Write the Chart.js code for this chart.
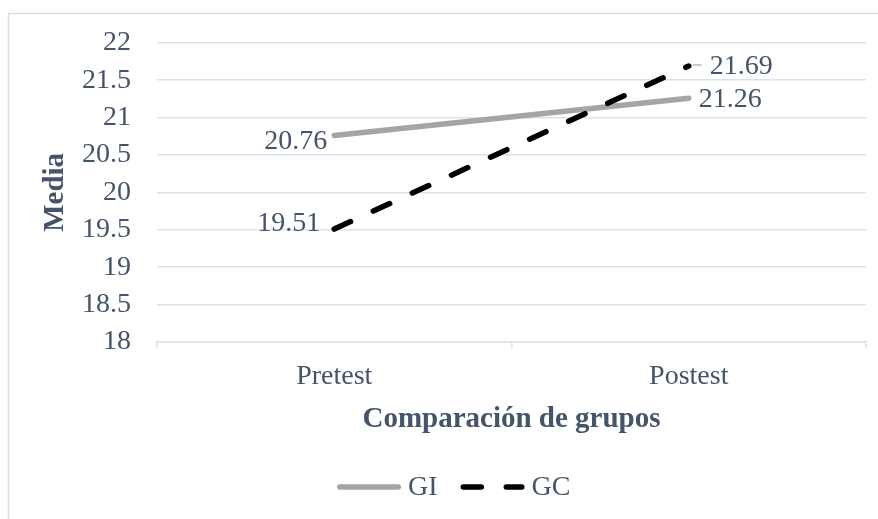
<!DOCTYPE html>
<html>
<head>
<meta charset="utf-8">
<script src="https://cdn.jsdelivr.net/npm/chart.js@4/dist/chart.umd.min.js"></script>
<style>
  html, body { margin: 0; padding: 0; background: #ffffff; }
  #wrap { position: relative; width: 878px; height: 519px; }
</style>
</head>
<body>
<div id="wrap"><canvas id="c" width="878" height="519"></canvas></div>
<script>
// Group means before and after the intervention
const categories = ['Pretest', 'Postest'];
const giValues = [20.76, 21.26];
const gcValues = [19.51, 21.69];
const yTicks = [18, 18.5, 19, 19.5, 20, 20.5, 21, 21.5, 22];

const TEXT = '#44546a';
const GRID = '#dde2ea';
const SERIF = '"Liberation Serif", "Times New Roman", serif';

// Light frame around the chart
const frame = {
  id: 'frame',
  beforeDraw(chart) {
    const ctx = chart.ctx;
    ctx.save();
    ctx.strokeStyle = '#d9dde4';
    ctx.lineWidth = 1.5;
    ctx.beginPath();
    ctx.moveTo(8.5, chart.height + 5);
    ctx.lineTo(8.5, 13.5);
    ctx.lineTo(chart.width + 5, 13.5);
    ctx.stroke();
    ctx.restore();
  }
};

// Value labels next to each point
const valueLabels = {
  id: 'valueLabels',
  afterDatasetsDraw(chart, args, opts) {
    const ctx = chart.ctx;
    ctx.save();
    ctx.font = '28px ' + SERIF;
    ctx.fillStyle = TEXT;
    ctx.textBaseline = 'middle';
    chart.data.datasets.forEach((ds, di) => {
      const meta = chart.getDatasetMeta(di);
      meta.data.forEach((pt, i) => {
        const p = opts.place[di][i];
        ctx.textAlign = p.align;
        ctx.fillText(ds.data[i].toFixed(2), pt.x + p.dx, pt.y + p.dy);
        if (p.leader) {
          ctx.strokeStyle = '#8a9ab0';
          ctx.lineWidth = 1;
          ctx.beginPath();
          ctx.moveTo(pt.x + 4, pt.y - 1);
          ctx.lineTo(pt.x + p.leader, pt.y - 1);
          ctx.stroke();
        }
      });
    });
    ctx.restore();
  }
};

// Legend row under the axis title, styled from each dataset
const lineLegend = {
  id: 'lineLegend',
  afterDraw(chart, args, opts) {
    const ctx = chart.ctx;
    ctx.save();
    ctx.font = '28px ' + SERIF;
    ctx.textBaseline = 'middle';
    ctx.textAlign = 'left';
    let x = opts.x;
    const y = opts.y;
    chart.data.datasets.forEach(ds => {
      const cap = ds.borderWidth / 2;
      ctx.strokeStyle = ds.borderColor;
      ctx.lineWidth = ds.borderWidth;
      ctx.lineCap = ds.borderCapStyle || 'butt';
      ctx.setLineDash(ds.borderDash || []);
      ctx.beginPath();
      ctx.moveTo(x + cap, y - 1);
      ctx.lineTo(x + opts.lineLength - cap, y - 1);
      ctx.stroke();
      ctx.setLineDash([]);
      x += opts.lineLength + opts.textGap;
      ctx.fillStyle = TEXT;
      ctx.fillText(ds.label, x, y);
      x += ctx.measureText(ds.label).width + opts.itemGap;
    });
    ctx.restore();
  }
};

new Chart(document.getElementById('c'), {
  type: 'line',
  data: {
    labels: categories,
    datasets: [
      {
        label: 'GI',
        data: giValues,
        borderColor: '#a5a5a5',
        backgroundColor: '#a5a5a5',
        borderWidth: 5.5,
        borderCapStyle: 'round',
        pointRadius: 0,
        tension: 0,
        order: 2
      },
      {
        label: 'GC',
        data: gcValues,
        borderColor: '#000000',
        backgroundColor: '#000000',
        borderWidth: 5.5,
        borderDash: [18, 25],
        borderCapStyle: 'round',
        pointRadius: 0,
        tension: 0,
        order: 1
      }
    ]
  },
  options: {
    responsive: false,
    animation: false,
    devicePixelRatio: 1,
    layout: { padding: { top: 41, right: 12, bottom: 62, left: 0 } },
    plugins: {
      tooltip: { enabled: false },
      legend: { display: false },
      lineLegend: { x: 337, y: 488, lineLength: 64, textGap: 7, itemGap: 23 },
      valueLabels: {
        place: [
          [ { align: 'right', dx: -7, dy: 6 }, { align: 'left', dx: 10, dy: 1 } ],
          [ { align: 'right', dx: -14, dy: -5 }, { align: 'left', dx: 21, dy: 1, leader: 13 } ]
        ]
      }
    },
    scales: {
      x: {
        offset: true,
        grid: {
          offset: true,
          drawOnChartArea: false,
          drawTicks: true,
          tickLength: 6,
          color: GRID,
          lineWidth: 1.5
        },
        border: { color: GRID, width: 1.5 },
        ticks: { color: TEXT, font: { family: SERIF, size: 28 }, padding: 12 },
        title: {
          display: true,
          text: 'Comparación de grupos',
          color: TEXT,
          font: { family: SERIF, size: 29, weight: 'bold' },
          padding: { top: 0, bottom: 20 }
        },
        afterFit(scale) { scale.height = 115; }
      },
      y: {
        min: yTicks[0],
        max: yTicks[yTicks.length - 1],
        afterBuildTicks(scale) { scale.ticks = yTicks.map(v => ({ value: v })); },
        grid: { color: GRID, lineWidth: 1.5, drawTicks: false },
        border: { display: false },
        ticks: {
          color: TEXT,
          font: { family: SERIF, size: 28 },
          padding: 26,
          callback: (value) => String(value)
        },
        title: {
          display: true,
          text: 'Media',
          color: TEXT,
          font: { family: SERIF, size: 29, weight: 'bold' },
          padding: { top: 38, bottom: 0 }
        },
        afterFit(scale) { scale.width = 157; }
      }
    }
  },
  plugins: [frame, valueLabels, lineLegend]
});
</script>
</body>
</html>
